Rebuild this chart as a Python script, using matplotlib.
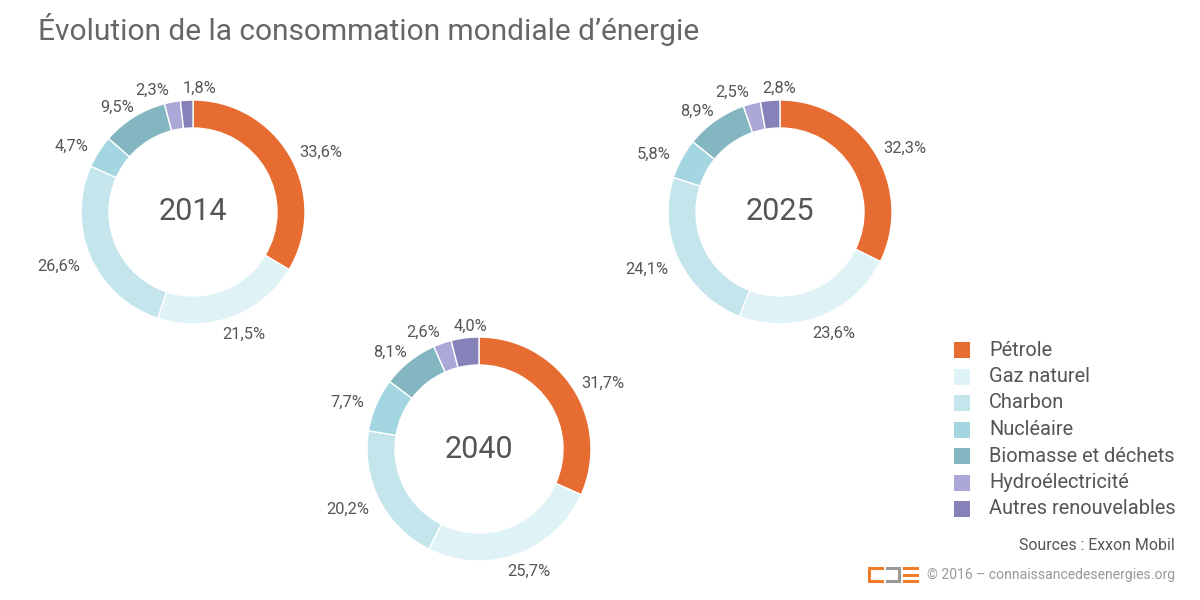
import matplotlib
matplotlib.use('Agg')
import matplotlib.pyplot as plt
import numpy as np

plt.rcParams['font.family'] = ['Roboto', 'DejaVu Sans']

categories = ['Pétrole', 'Gaz naturel', 'Charbon', 'Nucléaire',
              'Biomasse et déchets', 'Hydroélectricité', 'Autres renouvelables']
colors = ['#e66c32', '#dff3f6', '#c3e5eb', '#a3d6e1', '#83b6c1', '#aba7d7', '#8581b9']

years = ['2014', '2025', '2040']
values_2014 = [33.6, 21.5, 26.6, 4.7, 9.5, 2.3, 1.8]
values_2025 = [32.3, 23.6, 24.1, 5.8, 8.9, 2.5, 2.8]
values_2040 = [31.7, 25.7, 20.2, 7.7, 8.1, 2.6, 4.0]
series = [values_2014, values_2025, values_2040]

W, H = 1200, 600
centers = [(193, 212), (780, 212), (479, 449)]   # pixel positions (y from top)
R, ring = 112, 28

fig = plt.figure(figsize=(12, 6), dpi=100, facecolor='white')
ax = fig.add_axes([0, 0, 1, 1])
ax.set_xlim(0, W)
ax.set_ylim(0, H)
renderer = fig.canvas.get_renderer()

for year, vals, (cx, cy) in zip(years, series, centers):
    c = (cx, H - cy)
    wedges, _ = ax.pie(vals, colors=colors, startangle=90, counterclock=False,
                       center=c, radius=R,
                       wedgeprops=dict(width=ring, edgecolor='white', linewidth=1))
    ax.set_xlim(0, W)
    ax.set_ylim(0, H)
    ax.set_aspect('equal')
    labels = []
    for w, v in zip(wedges, vals):
        ang = np.deg2rad((w.theta1 + w.theta2) / 2)
        t = ax.text(0, 0, f'{v:.1f}%'.replace('.', ','), ha='center', va='center',
                    fontsize=11.8, color='#555555')
        bw = t.get_window_extent(renderer).width
        x = c[0] + (R + 19 + 0.75 * bw / 2) * np.cos(ang)
        y = c[1] + 127 * np.sin(ang) - 3
        labels.append([t, x, y, bw])
    # push apart labels that collide (neighbouring slices)
    for _ in range(20):
        for i in range(len(labels)):
            a = labels[i]
            b = labels[(i + 1) % len(labels)]
            need = (a[3] + b[3]) / 2 + 14
            if abs(a[2] - b[2]) < 16 and abs(a[1] - b[1]) < need:
                d = (need - abs(a[1] - b[1])) / 2
                if a[1] <= b[1]:
                    a[1] -= d; b[1] += d
                else:
                    a[1] += d; b[1] -= d
    for t, x, y, bw in labels:
        t.set_position((x, y))
    ax.text(c[0], c[1], year, ha='center', va='center', fontsize=22, color='#555555')

ax.axis('off')

# title
ax.text(38, H - 30, 'Évolution de la consommation mondiale d’énergie',
        ha='left', va='center', fontsize=21.5, color='#666666')

# legend
for i, (name, col) in enumerate(zip(categories, colors)):
    ly = H - (350 + i * 26.5)
    ax.add_patch(plt.Rectangle((954, ly - 8), 16, 16, color=col, lw=0))
    ax.text(989, ly, name, ha='left', va='center', fontsize=14.4, color='#555555')

ax.text(1175, H - 546, 'Sources : Exxon Mobil', ha='right', va='center',
        fontsize=11.4, color='#555555')
ax.text(1175, H - 575, '© 2016 – connaissancedesenergies.org', ha='right', va='center',
        fontsize=10.1, color='#999999')

# logo
orange, grey = '#f07c2a', '#999999'
lw = 2.2
ax.plot([882, 869, 869, 882], [H - 568, H - 568, H - 581, H - 581], color=orange, lw=lw,
        solid_joinstyle='miter')
ax.plot([887, 899, 899, 887], [H - 568, H - 568, H - 581, H - 581], color=grey, lw=lw,
        solid_joinstyle='miter')
for yy in (568, 574.5, 581):
    ax.plot([904, 917], [H - yy, H - yy], color=orange, lw=lw)

fig.savefig('out.png', dpi=100, facecolor='white')
